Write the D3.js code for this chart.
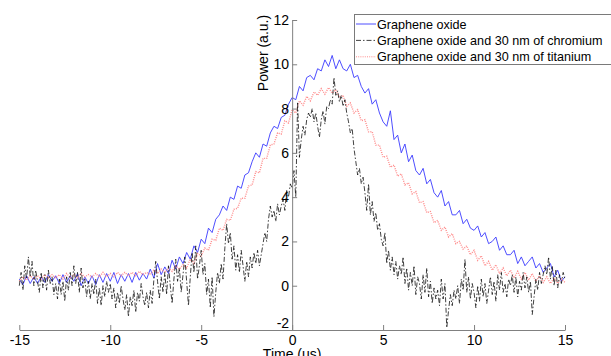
<!DOCTYPE html>
<html>
<head>
<meta charset="utf-8">
<script src="https://cdn.jsdelivr.net/npm/d3@7"></script>
<style>
  html, body { margin: 0; padding: 0; background: #fff; overflow: hidden; }
  svg { display: block; font-family: "Liberation Sans", Arial, sans-serif; }
</style>
</head>
<body>
<div id="container"></div>
<script>
// sample spacing (us) of the read-off traces
let tStart = -15;
let stepCoarse = 0.2;
let stepFine = 0.1;

// Graphene oxide (blue, every 0.2 us from -15 to 15)
let grapheneOxide = [
  0.3, 0.05, 0.45, 0.1, 0.4,
  0.1, 0.4, 0.15, 0.5, 0.2,
  0.45, 0.1, 0.5, 0.15, 0.45,
  0.2, 0.55, 0.0, 0.4, 0.1,
  0.45, 0.05, 0.5, 0.15, 0.55,
  0.2, 0.6, 0.1, 0.5, 0.2,
  0.55, 0.15, 0.6, 0.25, 0.55,
  0.3, 0.75, 0.35, 1.0, 0.5,
  0.85, 0.55, 1.15, 0.75, 1.3,
  1.0, 1.5, 1.2, 1.8, 1.5,
  2.1, 1.9, 2.6, 2.4, 3.0,
  3.2, 3.6, 3.4, 4.0, 3.9,
  4.5, 4.4, 5.0, 5.1, 5.6,
  6.0, 5.8, 6.4, 6.3, 6.9,
  7.2, 7.1, 7.6, 7.7, 8.2,
  8.5, 8.4, 9.0, 8.8, 9.4,
  9.5, 9.3, 9.8, 9.7, 10.2,
  9.9, 10.4, 9.8, 10.2, 9.8,
  9.7, 10.0, 9.4, 9.5, 9.0,
  8.7, 8.9, 8.2, 8.4, 7.8,
  7.4, 7.2, 7.9, 6.6, 6.8,
  6.0, 6.4, 5.6, 5.9, 5.2,
  5.0, 5.3, 4.6, 4.8, 4.2,
  4.0, 4.3, 3.6, 3.8, 3.2,
  3.2, 3.4, 2.8, 3.0, 2.6,
  2.5, 2.7, 2.2, 2.4, 1.9,
  2.0, 2.2, 1.6, 1.8, 1.4,
  1.4, 1.6, 1.0, 1.3, 0.9,
  1.1, 1.3, 0.8, 1.0, 0.6,
  0.8, 1.0, 0.4, 0.7, 0.2,
  0.4
];

// Graphene oxide and 30 nm of titanium (red dotted, every 0.2 us)
let withTitanium = [
  0.2, 0.4, 0.25, 0.45, 0.3,
  0.45, 0.3, 0.5, 0.35, 0.5,
  0.35, 0.5, 0.3, 0.55, 0.35,
  0.5, 0.35, 0.55, 0.4, 0.5,
  0.4, 0.55, 0.4, 0.6, 0.4,
  0.55, 0.4, 0.6, 0.45, 0.6,
  0.45, 0.6, 0.45, 0.65, 0.5,
  0.6, 0.5, 0.7, 0.55, 0.75,
  0.6, 0.8, 0.65, 0.9, 0.75,
  0.95, 0.8, 1.2, 1.0, 1.45,
  1.35, 1.7, 1.6, 2.1, 2.05,
  2.6, 2.5, 3.0, 2.95, 3.45,
  3.5, 3.95, 3.95, 4.5, 4.55,
  5.15, 5.1, 5.75, 5.75, 6.35,
  6.4, 6.9, 6.85, 7.45, 7.35,
  7.95, 7.8, 8.35, 8.15, 8.55,
  8.35, 8.75, 8.6, 8.9, 8.65,
  8.95, 8.7, 8.85, 8.5, 8.6,
  8.1, 8.25, 7.8, 7.95, 7.45,
  7.5, 6.95, 6.95, 6.35, 6.35,
  5.8, 5.85, 5.35, 5.45, 4.95,
  5.05, 4.55, 4.65, 4.15, 4.25,
  3.75, 3.8, 3.3, 3.35, 2.85,
  2.95, 2.5, 2.65, 2.2, 2.35,
  1.9, 2.0, 1.65, 1.8, 1.4,
  1.6, 1.15, 1.35, 0.9, 1.1,
  0.7, 0.95, 0.55, 0.8, 0.45,
  0.7, 0.35, 0.65, 0.3, 0.6,
  0.25, 0.55, 0.2, 0.45, 0.15,
  0.4, 0.1, 0.35, 0.1, 0.3,
  0.15
];

// Graphene oxide and 30 nm of chromium (black dash-dot, every 0.1 us)
let withChromium = [
  0.0, 0.6, -0.2, 0.9, 0.3, 1.3, 0.4, 1.1, 0.0, 0.7,
  0.2, -0.3, 0.6, -0.1, 0.5, -0.2, 0.7, 0.1, 0.4, -0.4,
  0.1, -0.6, 0.3, -0.4, 0.2, -0.7, 0.4, -0.2, 0.6, 0.0,
  0.9, 0.1, 0.6, -0.3, 0.8, -0.1, 0.3, -0.5, 0.2, -0.6,
  0.1, -0.4, 0.3, -0.8, -0.1, -0.9, 0.0, -0.5, 0.2, -0.3,
  0.1, -0.6, -0.1, -1.0, -0.3, -0.8, 0.0, -0.6, -1.1, -0.4,
  -1.4, -0.5, -0.9, -0.2, -1.2, -0.3, -0.7, 0.1, -0.5, -0.9,
  -0.3, -1.0, -0.2, -0.8, 0.3, 1.1, 0.2, -0.6, 0.4, -0.3,
  0.6, -0.4, 0.9, 0.0, -0.8, 0.3, 1.2, 0.2, 0.8, -0.3,
  0.5, 1.3, 0.2, -0.9, 0.4, 1.5, 0.6, 1.8, 0.3, 0.9,
  1.6, 0.5, 1.0, -0.4, 0.3, -1.0, 0.4, -1.4, -0.3, 0.6,
  0.1, 1.0, 0.3, 1.7, 2.8, 1.9, 2.4, 1.2, 1.8, 0.7,
  1.4, 0.6, 1.6, 0.9, 0.2, 1.1, 0.4, 1.3, 0.8, 1.5,
  1.0, 1.6, 0.9, 1.4, 1.9, 2.4, 2.0, 3.0, 3.6, 3.1,
  3.4, 2.9, 3.7, 3.2, 3.6, 3.9, 3.4, 4.3, 4.0, 4.6,
  4.4, 5.2, 4.0, 8.3, 5.8, 6.6, 7.2, 6.8, 7.5, 7.8,
  7.6, 8.0, 7.4, 7.8, 7.2, 6.7, 7.5, 7.9, 7.3, 8.1,
  8.0, 8.4, 8.2, 9.4, 8.6, 8.8, 8.3, 8.6, 8.1, 8.4,
  7.8, 7.4, 6.9, 7.1, 6.2, 5.6, 5.0, 5.3, 4.6, 4.9,
  4.2, 3.4, 4.6, 3.2, 3.8, 2.9, 3.3, 2.5, 2.8, 2.1,
  1.8, 2.4, 1.0, 1.6, 0.7, 1.3, 0.5, 1.1, 0.3, 0.9,
  0.5, 1.3, 0.1, 0.8, -0.2, 0.6, 0.0, 0.9, -0.4, 0.4,
  0.1, -0.6, 0.5, -0.3, 0.8, -0.5, 0.2, -0.8, -0.1, -0.6,
  -0.2, -0.9, 0.3, -0.6, 0.1, -1.9, -1.1, -0.4, -0.9, -0.2,
  -0.6, 0.0, -0.8, 0.3, -0.2, 1.2, -0.3, 0.4, -0.6, 0.1,
  -0.3, -1.0, 0.0, -0.7, 0.3, -0.5, 0.1, -0.8, -0.2, 0.4,
  -0.4, 0.2, -0.7, 0.5, -0.2, 0.6, -0.3, 0.1, -0.5, 0.3,
  0.0, 0.5, -0.3, 0.4, -0.5, 0.2, -0.2, 0.6, -0.1, 0.4,
  -0.3, 0.2, -1.3, -0.5, 0.3, -0.2, 0.6, 0.1, 0.5, 0.9,
  0.5, 1.3, 0.3, 0.9, 0.0, 0.7, -0.1, 0.5, 0.1, 0.6,
  0.3
];

let xTicks = [-15, -10, -5, 0, 5, 10, 15];
let yTicks = [-2, 0, 2, 4, 6, 8, 10, 12];
let legendLabels = [
  'Graphene oxide',
  'Graphene oxide and 30 nm of chromium',
  'Graphene oxide and 30 nm of titanium'
];

let width = 611, height = 356;

let x = d3.scaleLinear().domain([-15, 15]).range([19.3, 565]);
let y = d3.scaleLinear().domain([-2, 12]).range([330, 20]);

let svg = d3.select('#container').append('svg')
  .attr('width', width)
  .attr('height', height);

function toPoints(values, step) {
  return values.map(function (v, i) { return [tStart + i * step, v]; });
}

let line = d3.line()
  .x(function (d) { return x(d[0]); })
  .y(function (d) { return y(d[1]); });

let series = [
  { data: toPoints(grapheneOxide, stepCoarse), color: '#3a3aff', width: 0.9, dash: null },
  { data: toPoints(withChromium, stepFine), color: '#111', width: 0.8, dash: '5,2,1.5,2' },
  { data: toPoints(withTitanium, stepCoarse), color: '#ff8c8c', width: 1.4, dash: '1,1.2' }
];

// draw order: blue, red, black on top
[series[0], series[2], series[1]].forEach(function (s) {
  svg.append('path')
    .datum(s.data)
    .attr('fill', 'none')
    .attr('stroke', s.color)
    .attr('stroke-width', s.width)
    .attr('stroke-dasharray', s.dash)
    .attr('d', line);
});

// axes (ticks pointing inwards, matlab style)
let plain = function (d) { return String(d); };

let xAxis = svg.append('g')
  .attr('transform', 'translate(0,' + y(-2) + ')')
  .call(d3.axisBottom(x).tickValues(xTicks).tickFormat(plain)
    .tickSizeInner(-5).tickSizeOuter(0).tickPadding(5));

let yAxis = svg.append('g')
  .attr('transform', 'translate(' + x(0) + ',0)')
  .call(d3.axisLeft(y).tickValues(yTicks).tickFormat(plain)
    .tickSizeInner(-5).tickSizeOuter(0).tickPadding(3));

[xAxis, yAxis].forEach(function (g) {
  g.select('.domain').attr('stroke', '#808080');
  g.selectAll('.tick line').attr('stroke', '#808080');
  g.selectAll('.tick text')
    .attr('fill', '#000')
    .style('font-size', '14px')
    .style('font-family', '"Liberation Sans", Arial, sans-serif');
});

// the -2 label sits a bit above its tick
yAxis.selectAll('.tick text')
  .filter(function (d) { return d === -2; })
  .attr('dy', '-0.15em');

svg.append('text')
  .attr('x', x(0))
  .attr('y', 359)
  .attr('text-anchor', 'middle')
  .style('font-size', '14px')
  .text('Time (us)');

svg.append('text')
  .attr('transform', 'translate(268,53) rotate(-90)')
  .attr('text-anchor', 'middle')
  .style('font-size', '14px')
  .text('Power (a.u.)');

// legend
let legend = svg.append('g');
legend.append('rect')
  .attr('x', 354.5)
  .attr('y', 14.5)
  .attr('width', 280)
  .attr('height', 50)
  .attr('fill', '#fff')
  .attr('stroke', '#7a7a7a');

legendLabels.forEach(function (label, i) {
  let s = series[i];
  let ly = 24 + i * 16.4;
  legend.append('line')
    .attr('x1', 356).attr('x2', 376)
    .attr('y1', ly).attr('y2', ly)
    .attr('stroke', s.color)
    .attr('stroke-width', i === 2 ? 1 : s.width)
    .attr('stroke-dasharray', s.dash);
  legend.append('text')
    .attr('x', 377)
    .attr('y', ly)
    .attr('dy', '0.36em')
    .style('font-size', '12.6px')
    .text(label);
});
</script>
</body>
</html>
